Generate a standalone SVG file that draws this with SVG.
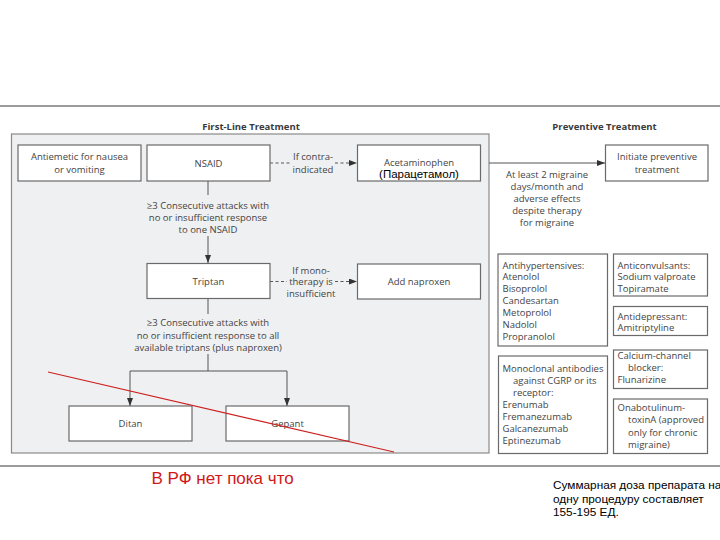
<svg xmlns="http://www.w3.org/2000/svg" width="720" height="540" viewBox="0 0 720 540">
<defs>
<marker id="ah" viewBox="0 0 8 6" refX="8" refY="3" markerWidth="8" markerHeight="6" markerUnits="userSpaceOnUse" orient="auto">
<path d="M0,0 L8,3 L0,6 Z" fill="#333"/>
</marker>
<style>
.box{fill:#fff;stroke:#6a6a6a;stroke-width:1.2}
.t{font-family:"Open Sans","Liberation Sans",sans-serif;font-size:9.5px;fill:#444}
.c{text-anchor:middle}
.h{font-family:"Open Sans","Liberation Sans",sans-serif;font-size:9.5px;font-weight:bold;fill:#3a3a3a;text-anchor:middle}
.ln{stroke:#555;stroke-width:1;fill:none}
.dash{stroke:#555;stroke-width:1;fill:none;stroke-dasharray:3 2.5}
.ru{font-family:"Liberation Sans",Arial,sans-serif}
</style>
</defs>
<rect width="720" height="540" fill="#fff"/>
<line x1="0" y1="106" x2="720" y2="106" stroke="#7a7a7a" stroke-width="1.5"/>
<line x1="0" y1="466" x2="720" y2="466" stroke="#7a7a7a" stroke-width="1.5"/>
<rect id="panel" x="11.5" y="134" width="477.5" height="319" fill="#eff0f1" stroke="#8a8a8a" stroke-width="1.2"/>
<text class="h" x="251" y="129.5">First-Line Treatment</text>
<text class="h" x="604.5" y="129.5">Preventive Treatment</text>

<g id="connectors">
<line class="dash" x1="270" y1="163" x2="290" y2="163"/>
<line class="dash" x1="335" y1="163" x2="357" y2="163" marker-end="url(#ah)"/>
<line class="ln" x1="208" y1="181" x2="208" y2="195"/>
<line class="ln" x1="208" y1="236" x2="208" y2="263" marker-end="url(#ah)"/>
<line class="dash" x1="270" y1="281.5" x2="287" y2="281.5"/>
<line class="dash" x1="335" y1="281.5" x2="357" y2="281.5" marker-end="url(#ah)"/>
<line class="ln" x1="208" y1="298" x2="208" y2="314"/>
<path class="ln" d="M208,354 V371 M130,371 H287"/>
<line class="ln" x1="130" y1="371" x2="130" y2="406" marker-end="url(#ah)"/>
<line class="ln" x1="287" y1="371" x2="287" y2="406" marker-end="url(#ah)"/>
<line class="ln" x1="489" y1="163" x2="605" y2="163" marker-end="url(#ah)"/>
<text class="t c" x="313" y="160">If contra-</text>
<text class="t c" x="313" y="172.5">indicated</text>
<text class="t c" x="208" y="209">≥3 Consecutive attacks with</text>
<text class="t c" x="208" y="221">no or insufficient response</text>
<text class="t c" x="208" y="233">to one NSAID</text>
<text class="t c" x="311" y="273.5">If mono-</text>
<text class="t c" x="311" y="285">therapy is</text>
<text class="t c" x="311" y="297">insufficient</text>
<text class="t c" x="208" y="326">≥3 Consecutive attacks with</text>
<text class="t c" x="208" y="338.5">no or insufficient response to all</text>
<text class="t c" x="208" y="350.5">available triptans (plus naproxen)</text>
<text class="t c" x="547" y="177.5">At least 2 migraine</text>
<text class="t c" x="547" y="189.5">days/month and</text>
<text class="t c" x="547" y="202">adverse effects</text>
<text class="t c" x="547" y="214">despite therapy</text>
<text class="t c" x="547" y="226">for migraine</text>
</g>

<g id="antiemetic">
<rect class="box" x="18" y="145" width="123" height="36"/>
<text class="t c" x="79.5" y="160">Antiemetic for nausea</text>
<text class="t c" x="79.5" y="172.5">or vomiting</text>
</g>
<g id="nsaid">
<rect class="box" x="147" y="145" width="123" height="36"/>
<text class="t c" x="208.5" y="166.5">NSAID</text>
</g>
<g id="acetaminophen">
<rect class="box" x="357.5" y="145" width="123" height="36"/>
<text class="t c" x="419" y="166">Acetaminophen</text>
<text class="ru c" x="419" y="177.5" font-size="11.5" fill="#000">(Парацетамол)</text>
</g>
<g id="triptan">
<rect class="box" x="147" y="263.5" width="123" height="35"/>
<text class="t c" x="208.5" y="284.5">Triptan</text>
</g>
<g id="naproxen">
<rect class="box" x="357.5" y="264" width="123" height="35"/>
<text class="t c" x="419" y="285">Add naproxen</text>
</g>
<g id="ditan">
<rect class="box" x="69" y="406" width="123" height="35"/>
<text class="t c" x="130.5" y="426.5">Ditan</text>
</g>
<g id="gepant">
<rect class="box" x="226" y="406" width="123" height="35"/>
<text class="t c" x="287.5" y="426.5">Gepant</text>
</g>
<g id="initiate">
<rect class="box" x="605.5" y="145" width="102.5" height="36"/>
<text class="t c" x="657" y="160">Initiate preventive</text>
<text class="t c" x="657" y="172.5">treatment</text>
</g>
<g id="antihypertensives">
<rect class="box" x="498" y="254" width="109.5" height="92"/>
<text class="t" x="502.5" y="268.5">Antihypertensives:</text>
<text class="t" x="502.5" y="280.3">Atenolol</text>
<text class="t" x="502.5" y="292.2">Bisoprolol</text>
<text class="t" x="502.5" y="304">Candesartan</text>
<text class="t" x="502.5" y="315.8">Metoprolol</text>
<text class="t" x="502.5" y="327.7">Nadolol</text>
<text class="t" x="502.5" y="339.5">Propranolol</text>
</g>
<g id="anticonvulsants">
<rect class="box" x="613.5" y="254" width="94" height="42"/>
<text class="t" x="617.5" y="268.5">Anticonvulsants:</text>
<text class="t" x="617.5" y="280.3">Sodium valproate</text>
<text class="t" x="617.5" y="292">Topiramate</text>
</g>
<g id="antidepressant">
<rect class="box" x="613.5" y="306.5" width="94" height="29"/>
<text class="t" x="617.5" y="319.5">Antidepressant:</text>
<text class="t" x="617.5" y="331.3">Amitriptyline</text>
</g>
<g id="calcium">
<rect class="box" x="613.5" y="350" width="94" height="38.5"/>
<text class="t" x="617.5" y="359">Calcium-channel</text>
<text class="t" x="628" y="370.8">blocker:</text>
<text class="t" x="617.5" y="382.6">Flunarizine</text>
</g>
<g id="monoclonal">
<rect class="box" x="498.5" y="356" width="109" height="97.5"/>
<text class="t" x="502.5" y="371.5">Monoclonal antibodies</text>
<text class="t" x="513" y="383.5">against CGRP or its</text>
<text class="t" x="513" y="395.5">receptor:</text>
<text class="t" x="502.5" y="407.5">Erenumab</text>
<text class="t" x="502.5" y="419.8">Fremanezumab</text>
<text class="t" x="502.5" y="432">Galcanezumab</text>
<text class="t" x="502.5" y="444">Eptinezumab</text>
</g>
<g id="onabotulinum">
<rect class="box" x="613.5" y="399" width="94" height="54.5"/>
<text class="t" x="617.5" y="411">Onabotulinum-</text>
<text class="t" x="628" y="423.3">toxinA (approved</text>
<text class="t" x="628" y="435.8">only for chronic</text>
<text class="t" x="628" y="448">migraine)</text>
</g>
<line id="strike" x1="48" y1="372" x2="394" y2="452" stroke="#cc1f1f" stroke-width="1.1"/>
<text class="ru" x="151.5" y="483.5" font-size="17" fill="#d01818">В РФ нет пока что</text>
<g class="ru" font-size="11.8" fill="#000">
<text x="553" y="489">Суммарная доза препарата на</text>
<text x="553" y="502.5">одну процедуру составляет</text>
<text x="553" y="516">155-195 ЕД.</text>
</g>
</svg>
